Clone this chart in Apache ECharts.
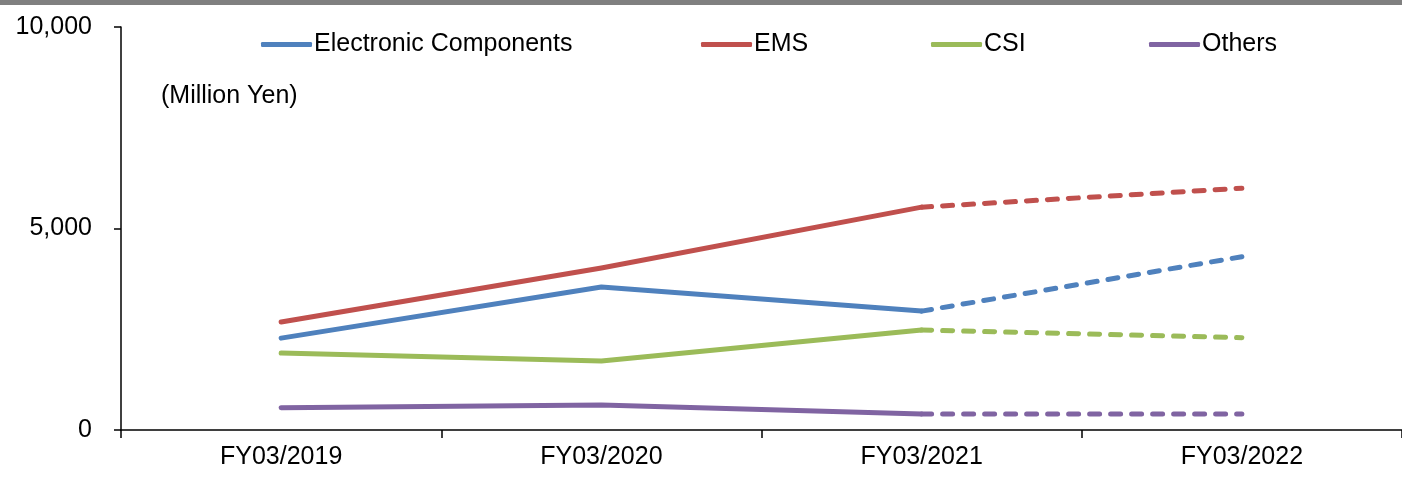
<!DOCTYPE html>
<html lang="en">
<head>
    <meta charset="UTF-8">
    <title>Segment sales</title>
    <script src="https://cdn.jsdelivr.net/npm/echarts@6/dist/echarts.min.js"></script>
    <style>
        html, body { margin: 0; padding: 0; background: #fff; }
        #chart { width: 1402px; height: 481px; }
    </style>
</head>
<body>
<div id="chart"></div>
<script type="text/javascript">
    // fiscal years on the x axis
    var years = ['FY03/2019', 'FY03/2020', 'FY03/2021', 'FY03/2022'];
    // segment sales, million yen (last point is the forecast)
    var electronic = [2280, 3550, 2950, 4300];
    var ems = [2680, 4020, 5530, 6000];
    var csi = [1910, 1710, 2480, 2290];
    var others = [550, 620, 400, 400];
    var names = ['Electronic Components', 'EMS', 'CSI', 'Others'];
    var colors = ['#4F81BD', '#C0504D', '#9BBB59', '#8064A2'];
    var legendLeft = [261, 701, 931, 1149];

    var font = 'Liberation Sans, Arial, sans-serif';
    var chart = echarts.init(document.getElementById('chart'));

    // actual years solid, the forecast segment dashed
    function actual(arr) {
        return [arr[0], arr[1], arr[2], '-'];
    }
    function forecast(arr) {
        return ['-', '-', arr[2], arr[3]];
    }

    var allData = [electronic, ems, csi, others];
    var series = [];
    var legends = [];
    for (var i = 0; i < names.length; i++) {
        series.push({
            name: names[i],
            type: 'line',
            data: actual(allData[i]),
            symbol: 'none',
            lineStyle: { color: colors[i], width: 5, cap: 'round', join: 'round' },
            itemStyle: { color: colors[i] },
            silent: true
        });
        series.push({
            name: names[i],
            type: 'line',
            data: forecast(allData[i]),
            symbol: 'none',
            lineStyle: { color: colors[i], width: 5, type: [10, 11], cap: 'round' },
            itemStyle: { color: colors[i] },
            silent: true
        });
        legends.push({
            data: [names[i]],
            left: legendLeft[i],
            top: 32,
            padding: 0,
            itemWidth: 51,
            itemHeight: 5,
            itemGap: 0,
            icon: 'roundRect',
            textStyle: { fontFamily: font, fontSize: 25, color: '#000', padding: [0, 0, 0, -3] },
            selectedMode: false
        });
    }

    var option = {
        animation: false,
        backgroundColor: '#fff',
        legend: legends,
        grid: { left: 121, right: -3, top: 27, bottom: 51 },
        graphic: [
            { type: 'rect', left: 0, top: 0, shape: { width: 1402, height: 5 }, style: { fill: '#808080' } },
            { type: 'text', left: 161, top: 84, style: { text: '(Million Yen)', font: '25px ' + font, fill: '#000' } }
        ],
        xAxis: {
            type: 'category',
            data: years,
            boundaryGap: true,
            axisLine: { lineStyle: { color: '#000', width: 1.5 } },
            axisTick: { show: true, length: 8, lineStyle: { color: '#000', width: 1.5 } },
            axisLabel: { fontFamily: font, fontSize: 25, color: '#000', margin: 15 }
        },
        yAxis: {
            type: 'value',
            min: 0,
            max: 10000,
            interval: 5000,
            axisLine: { show: true, lineStyle: { color: '#000', width: 1.5 } },
            axisTick: { show: true, length: 7, lineStyle: { color: '#000', width: 1.5 } },
            splitLine: { show: false },
            axisLabel: {
                fontFamily: font, fontSize: 25, color: '#000', margin: 29,
                formatter: function (v) { return v.toLocaleString('en-US'); }
            }
        },
        series: series
    };

    chart.setOption(option);
</script>
</body>
</html>
